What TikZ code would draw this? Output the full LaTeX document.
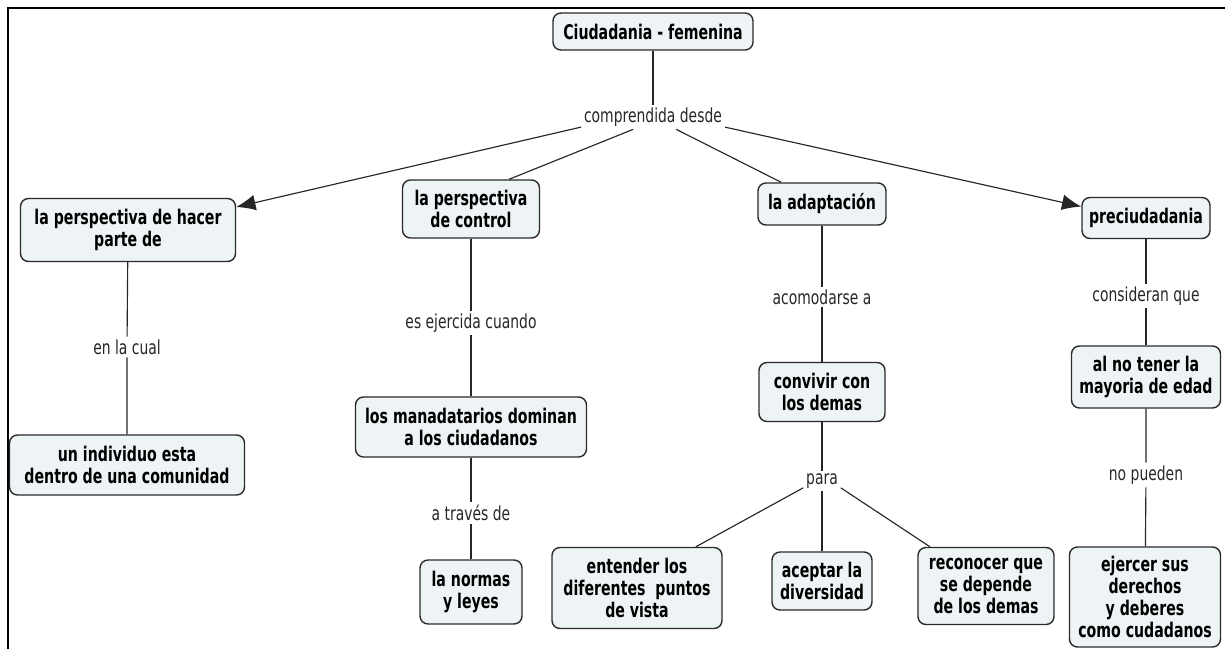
\documentclass[tikz,border=0pt]{standalone}
\usepackage{fontspec}
\setmainfont{DejaVu Sans}[FakeStretch=0.70]
\newfontfamily\linkfont{DejaVu Sans}[FakeStretch=0.72]
\usetikzlibrary{arrows.meta}
\definecolor{boxfill}{HTML}{EEF4F6}
\definecolor{boxline}{HTML}{2A2A2A}
\tikzset{
  concept/.style={draw=boxline, line width=0.8pt, fill=boxfill, rounded corners=4.5pt,
    align=center, inner sep=2pt, font=\bfseries\fontsize{11.5}{12.6}\selectfont},
  linkword/.style={inner sep=1.5pt, text=black!85, font=\linkfont\fontsize{11}{12}\selectfont},
  link/.style={draw=black!85, line width=0.65pt},
  arrowlink/.style={link, -{Latex[length=11pt,width=9pt]}}
}
\begin{document}
\begin{tikzpicture}[x=0.02cm,y=-0.02cm]
\useasboundingbox (0,0) rectangle (1225,649);
\draw [line width=1.2pt](8,649) -- (8,8) -- (1225,8);
% top
\node [concept,minimum width=4cm,minimum height=0.74cm] (root) at (653,31.5) {Ciudadania - femenina};
\node [linkword] (comp) at (653,117) {comprendida desde};
% second row
\node [concept,minimum width=4.3cm,minimum height=1.26cm] (hacer) at (128,230) {la perspectiva de hacer\\parte de};
\node [concept,minimum width=2.74cm,minimum height=1.16cm] (control) at (471,209) {la perspectiva\\de control};
\node [concept,minimum width=2.56cm,minimum height=0.84cm] (adapt) at (822,204) {la adaptación};
\node [concept,minimum width=2.56cm,minimum height=0.82cm] (preci) at (1146,218) {preciudadania};
% linking words
\node [linkword] (cual) at (127,347) {en la cual};
\node [linkword] (ejerc) at (471,323) {es ejercida cuando};
\node [linkword] (traves) at (471,513) {a través de};
\node [linkword] (acomod) at (822,297) {acomodarse a};
\node [linkword] (para) at (822,481) {para};
\node [linkword] (consid) at (1146,296) {consideran que};
\node [linkword] (pueden) at (1146,475) {no pueden};
% lower rows
\node [concept,minimum width=4.7cm,minimum height=1.2cm] (indiv) at (127,465) {un individuo esta\\dentro de una comunidad};
\node [concept,minimum width=4.62cm,minimum height=1.2cm] (mandat) at (471,427) {los manadatarios dominan\\a los ciudadanos};
\node [concept,minimum width=2.04cm,minimum height=1.28cm] (normas) at (471,592) {la normas\\y leyes};
\node [concept,minimum width=2.52cm,minimum height=1.18cm] (conviv) at (822,392) {convivir con\\los demas};
\node [concept,minimum width=3.4cm,minimum height=1.62cm] (entender) at (637,588) {entender los\\diferentes\ \ puntos\\de vista};
\node [concept,minimum width=2cm,minimum height=1.16cm] (aceptar) at (822,581) {aceptar la\\diversidad};
\node [concept,minimum width=2.72cm,minimum height=1.54cm] (reconoc) at (986,586) {reconocer que\\se depende\\de los demas};
\node [concept,minimum width=2.98cm,minimum height=1.24cm] (edad) at (1146,377) {al no tener la\\mayoria de edad};
\node [concept,minimum width=3.02cm,minimum height=2cm] (ejercer) at (1145,597) {ejercer sus\\derechos\\y deberes\\como cudadanos};
% connectors
\draw [link](root) -- (comp);
\draw [arrowlink](comp.188) -- (hacer.12);
\draw [link](comp.212) -- (control.38);
\draw [link](comp.332) -- (adapt.152);
\draw [arrowlink](comp.352) -- (preci.170);
\draw [link](hacer) -- (cual) -- (indiv);
\draw [link](control) -- (ejerc) -- (mandat);
\draw [link](mandat) -- (traves) -- (normas);
\draw [link](adapt) -- (acomod) -- (conviv);
\draw [link](conviv) -- (para) -- (aceptar);
\draw [link](para.200) -- (entender.35);
\draw [link](para.340) -- (reconoc.145);
\draw [link](preci) -- (consid) -- (edad);
\draw [link](edad) -- (pueden) -- (ejercer);
\end{tikzpicture}
\end{document}
